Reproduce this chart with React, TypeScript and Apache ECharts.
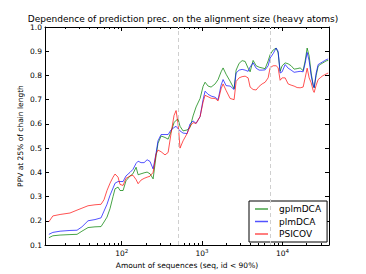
import React, { useEffect, useRef } from "react";
import * as echarts from "echarts";

const nSeqs = [12.4, 13.9, 17.1, 22.7, 27.8, 32, 38.1, 46.5, 55.3, 60.2,
  65.6, 71.5, 78, 82.6, 90, 95.3, 104, 113, 127, 138,
  151, 160, 174, 190, 207, 225, 246, 268, 283, 309,
  346, 378, 411, 448, 475, 503, 532, 580, 651, 709,
  773, 843, 945, 1030, 1090, 1190, 1295, 1453, 1583, 1726,
  1827, 1991, 2234, 2504, 2653, 2891, 3151, 3434, 3743, 3963,
  4319, 4707, 5130, 5591, 6094, 6641, 7034, 7664, 8352, 8846,
  9368, 9920, 10810, 11780, 12840, 13990, 15250, 16620, 18110, 19180,
  20320, 21520, 22790, 24130, 24830, 26300, 27860, 29500, 31240, 33090,
  35040, 37110];

const gplmDCA = [0.130, 0.138, 0.141, 0.143, 0.144, 0.157, 0.172, 0.175, 0.176, 0.195,
  0.215, 0.250, 0.300, 0.332, 0.339, 0.325, 0.325, 0.365, 0.385, 0.394,
  0.421, 0.390, 0.394, 0.398, 0.401, 0.394, 0.373, 0.470, 0.520, 0.550,
  0.544, 0.537, 0.568, 0.605, 0.615, 0.619, 0.590, 0.571, 0.575, 0.585,
  0.633, 0.670, 0.705, 0.755, 0.772, 0.756, 0.752, 0.765, 0.783, 0.815,
  0.831, 0.805, 0.776, 0.745, 0.822, 0.850, 0.861, 0.858, 0.830, 0.815,
  0.862, 0.840, 0.834, 0.831, 0.828, 0.860, 0.886, 0.905, 0.913, 0.893,
  0.817, 0.840, 0.852, 0.848, 0.840, 0.826, 0.828, 0.831, 0.820, 0.860,
  0.913, 0.880, 0.810, 0.760, 0.749, 0.800, 0.838, 0.845, 0.850, 0.855,
  0.860, 0.862];

const plmDCA = [0.144, 0.152, 0.157, 0.160, 0.161, 0.175, 0.200, 0.205, 0.212, 0.240,
  0.268, 0.305, 0.335, 0.355, 0.362, 0.362, 0.362, 0.385, 0.400, 0.412,
  0.437, 0.446, 0.440, 0.440, 0.452, 0.445, 0.414, 0.480, 0.530, 0.556,
  0.556, 0.556, 0.575, 0.585, 0.590, 0.580, 0.571, 0.562, 0.560, 0.600,
  0.612, 0.602, 0.630, 0.700, 0.735, 0.722, 0.715, 0.710, 0.700, 0.760,
  0.783, 0.758, 0.756, 0.742, 0.810, 0.822, 0.825, 0.822, 0.817, 0.835,
  0.852, 0.830, 0.822, 0.822, 0.823, 0.840, 0.872, 0.890, 0.913, 0.900,
  0.810, 0.815, 0.845, 0.830, 0.822, 0.813, 0.815, 0.817, 0.815, 0.850,
  0.895, 0.860, 0.800, 0.760, 0.750, 0.810, 0.845, 0.850, 0.855, 0.860,
  0.865, 0.868];

const psicov = [0.196, 0.220, 0.226, 0.232, 0.244, 0.252, 0.262, 0.266, 0.268, 0.287,
  0.325, 0.355, 0.380, 0.393, 0.380, 0.350, 0.346, 0.375, 0.385, 0.388,
  0.370, 0.353, 0.368, 0.375, 0.380, 0.384, 0.400, 0.476, 0.492, 0.485,
  0.472, 0.482, 0.560, 0.635, 0.655, 0.600, 0.500, 0.530, 0.560, 0.590,
  0.605, 0.602, 0.630, 0.690, 0.718, 0.712, 0.706, 0.705, 0.695, 0.745,
  0.765, 0.738, 0.705, 0.700, 0.775, 0.790, 0.795, 0.797, 0.790, 0.752,
  0.742, 0.740, 0.755, 0.765, 0.772, 0.790, 0.832, 0.840, 0.840, 0.832,
  0.780, 0.790, 0.790, 0.765, 0.760, 0.756, 0.750, 0.749, 0.752, 0.790,
  0.830, 0.790, 0.770, 0.738, 0.730, 0.760, 0.783, 0.790, 0.797, 0.802,
  0.806, 0.810];

const dashedAt = [500, 7000];
const majorTicks = [100, 1000, 10000];
const xMin = 11.1;
const xMax = 38000;
const yMin = 0.1;
const yMax = 1.0;

const FONT = "DejaVu Sans";
const lg = (v: number) => Math.log10(v);

export default function App() {
  const ref = useRef<HTMLDivElement>(null);
  useEffect(() => {
    const chart = echarts.init(ref.current!, null, { renderer: "svg" });
    const minor: number[] = [];
    for (let d = 1; d <= 4; d++) {
      for (let k = 2; k <= 9; k++) {
        const v = k * Math.pow(10, d);
        if (v > xMin && v < xMax) minor.push(lg(v));
      }
    }
    const major = majorTicks.map(lg);
    const black = { color: "#000", width: 1 };
    const xBase = {
      type: "value",
      min: lg(xMin),
      max: lg(xMax),
      splitLine: { show: false },
    };
    const mk = (name: string, arr: number[], color: string) => ({
      name,
      type: "line",
      xAxisIndex: 0,
      yAxisIndex: 0,
      showSymbol: false,
      symbol: "none",
      color,
      lineStyle: { width: 1, color },
      data: nSeqs.map((n, i) => [lg(n), arr[i]]),
    });
    const s1: any = mk("gplmDCA", gplmDCA, "rgba(0,128,0,0.72)");
    s1.markLine = {
      silent: true,
      symbol: "none",
      label: { show: false },
      lineStyle: { color: "#cfcfcf", type: [4, 3], width: 1 },
      data: dashedAt.map((v) => ({ xAxis: lg(v) })),
    };
    chart.setOption({
      animation: false,
      backgroundColor: "#fff",
      title: {
        text: "Dependence of prediction prec. on the alignment size (heavy atoms)",
        left: "center",
        top: 14,
        padding: [0, 0, 0, 10],
        textStyle: { fontFamily: FONT, fontSize: 9, fontWeight: "normal", color: "#000" },
      },
      grid: { left: 45, right: 37, top: 27, bottom: 27 },
      xAxis: [
        {
          ...xBase,
          position: "bottom",
          name: "Amount of sequences (seq, id < 90%)",
          nameLocation: "middle",
          nameGap: 16,
          nameMoveOverlap: false,
          nameTextStyle: { fontFamily: FONT, fontSize: 7.5, color: "#000" },
          axisLine: { show: true, onZero: false, lineStyle: black },
          axisTick: { show: true, inside: true, length: 4, customValues: major, lineStyle: black },
          axisLabel: {
            show: true,
            customValues: major,
            margin: 3,
            fontFamily: FONT,
            fontSize: 7.5,
            color: "#000",
            formatter: (v: number) => "10{sup|" + Math.round(v) + "}",
            rich: { sup: { fontFamily: FONT, fontSize: 5.5, color: "#000", padding: [0, 0, 5, 0] } },
          },
        },
        {
          ...xBase,
          position: "bottom",
          axisLine: { show: false, onZero: false },
          axisTick: { show: true, inside: true, length: 2, customValues: minor, lineStyle: black },
          axisLabel: { show: false },
        },
        {
          ...xBase,
          position: "top",
          axisLine: { show: true, onZero: false, lineStyle: black },
          axisTick: { show: true, inside: true, length: 4, customValues: major, lineStyle: black },
          axisLabel: { show: false },
        },
        {
          ...xBase,
          position: "top",
          axisLine: { show: false, onZero: false },
          axisTick: { show: true, inside: true, length: 2, customValues: minor, lineStyle: black },
          axisLabel: { show: false },
        },
      ],
      yAxis: [
        {
          type: "value",
          position: "left",
          min: yMin,
          max: yMax,
          interval: 0.1,
          name: "PPV at 25% of chain length",
          nameLocation: "middle",
          nameRotate: 90,
          nameGap: 21,
          nameMoveOverlap: false,
          nameTextStyle: { fontFamily: FONT, fontSize: 7.5, color: "#000" },
          splitLine: { show: false },
          axisLine: { show: true, onZero: false, lineStyle: black },
          axisTick: { show: true, inside: true, length: 4, lineStyle: black },
          axisLabel: {
            margin: 3,
            fontFamily: FONT,
            fontSize: 7.5,
            color: "#000",
            formatter: (v: number) => v.toFixed(1),
          },
        },
        {
          type: "value",
          position: "right",
          min: yMin,
          max: yMax,
          interval: 0.1,
          splitLine: { show: false },
          axisLine: { show: true, onZero: false, lineStyle: black },
          axisTick: { show: true, inside: true, length: 4, lineStyle: black },
          axisLabel: { show: false },
        },
      ],
      legend: {
        left: 249,
        top: 201,
        orient: "vertical",
        padding: [3, 6, 3, 6],
        itemGap: 2.5,
        itemWidth: 13,
        itemHeight: 1.5,
        icon: "rect",
        borderColor: "#000",
        borderWidth: 1,
        borderRadius: 0,
        backgroundColor: "#fff",
        textStyle: { fontFamily: FONT, fontSize: 9, color: "#000", lineHeight: 10, padding: [0, 0, 0, 6] },
        data: ["gplmDCA", "plmDCA", "PSICOV"],
      },
      series: [
        s1,
        mk("plmDCA", plmDCA, "rgba(0,0,255,0.68)"),
        mk("PSICOV", psicov, "rgba(255,0,0,0.68)"),
      ],
    });
    return () => chart.dispose();
  }, []);
  return <div ref={ref} style={{ position: "fixed", left: 0, top: 0, width: 366, height: 274 }} />;
}
